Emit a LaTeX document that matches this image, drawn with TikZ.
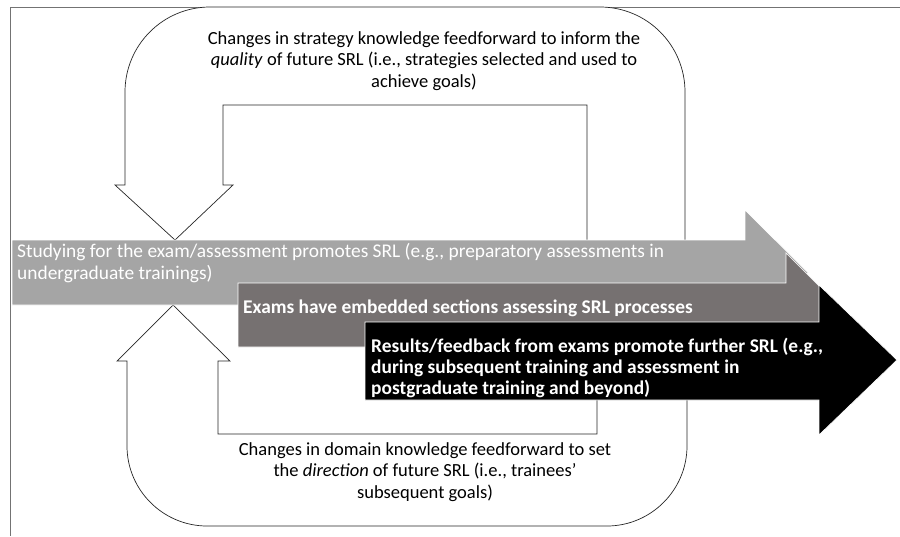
\documentclass[tikz,border=0pt]{standalone}
\usepackage{fontspec}
\setmainfont{Carlito}
\usetikzlibrary{positioning}
\definecolor{lightband}{HTML}{A5A5A5}
\definecolor{darkband}{HTML}{767171}

\begin{document}
\begin{tikzpicture}[x=1pt,y=-1pt]
	\tikzset{loop/.style = {draw=black!85,fill=white,line width=0.7pt}}
	\tikzset{band/.style = {draw=white,line width=0.7pt}}
	\tikzset{bandtext/.style = {text=white,align=left,anchor=base west,inner sep=0pt,font=\fontsize{19.4}{21.5}\selectfont}}
	\tikzset{note/.style = {align=center,anchor=base,inner sep=0pt,font=\fontsize{18.5}{21.5}\selectfont}}

	\useasboundingbox (0,0) rectangle (900,536);

	% frame
	\draw[black!55,line width=0.6pt] (900,7) -- (10,7) -- (10,536);

	% upper loop: strategy knowledge
	\draw[loop] (587,240) -- (587,105) -- (223,105) -- (223,185) -- (233,185) -- (175,240) -- (115,185) -- (125,185)
		-- (125,92) .. controls (125,45) and (163,7) .. (210,7) -- (600,7) .. controls (647,7) and (685,45) .. (685,92) -- (685,240);

	% lower loop: domain knowledge
	\draw[loop] (597,400) -- (597,434) -- (218,434) -- (218,361) -- (230,361) -- (173,305) -- (117,361) -- (127,361)
		-- (127,446) .. controls (127,490) and (163,526) .. (207,526) -- (607,526) .. controls (651,526) and (687,490) .. (687,446) -- (687,400);

	% bands
	\draw[band,fill=lightband] (12,240) -- (745,240) -- (745,210) -- (808,272.5) -- (745,335) -- (745,305) -- (12,305) -- cycle;
	\draw[band,fill=darkband] (238,283) -- (786,283) -- (786,253) -- (848,315) -- (786,377) -- (786,347) -- (238,347) -- cycle;
	\draw[band,fill=black] (365,322) -- (819,322) -- (819,285) -- (897,360) -- (819,435) -- (819,400) -- (365,400) -- cycle;

	% band texts (anchored at the last baseline)
	\node[bandtext] (study) at (17,279) {Studying for the exam/assessment promotes SRL (e.g., preparatory assessments in\\undergraduate trainings)};
	\node[bandtext,font=\fontsize{19.4}{21.5}\selectfont\bfseries] (exams) at (243,313) {Exams have embedded sections assessing SRL processes};
	\node[bandtext,font=\fontsize{19.4}{21}\selectfont\bfseries] (results) at (371,394) {Results/feedback from exams promote further SRL (e.g.,\\during subsequent training and assessment in\\postgraduate training and beyond)};

	% loop texts
	\node[note] (strategy) at (424,87) {Changes in strategy knowledge feedforward to inform the\\\textit{quality} of future SRL (i.e., strategies selected and used to\\achieve goals)};
	\node[note] (domain) at (425,498) {Changes in domain knowledge feedforward to set\\the \textit{direction} of future SRL (i.e., trainees’\\subsequent goals)};
\end{tikzpicture}
\end{document}
